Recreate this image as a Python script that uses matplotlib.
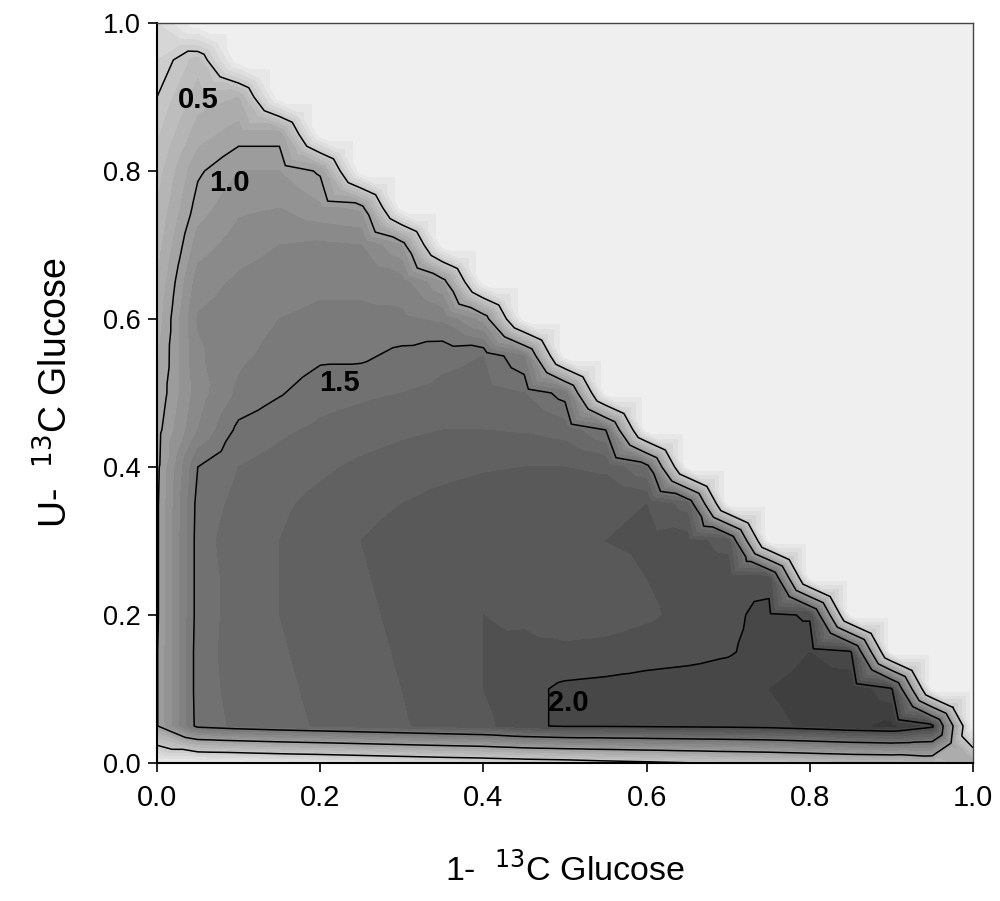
import numpy as np
import matplotlib.pyplot as plt
import matplotlib.tri as mtri
from matplotlib.colors import LinearSegmentedColormap

# grid of tracer fractions, step 0.05 (x = 1-13C glucose, y = U-13C glucose)
x_frac = np.linspace(0, 1, 21)
y_frac = np.linspace(0, 1, 21)

# values, one list per y row (only x + y <= 1 is defined)
rows = [
    [0.05, 0.05, 0.07, 0.11, 0.14, 0.18, 0.22, 0.26, 0.29, 0.33, 0.36, 0.41, 0.45, 0.49, 0.53, 0.56, 0.6, 0.64, 0.66, 0.75, 0.85],
    [0.99, 1.55, 1.62, 1.67, 1.71, 1.75, 1.79, 1.83, 1.87, 1.97, 2.02, 2.02, 2.03, 2.04, 2.05, 2.07, 2.12, 2.18, 2.22, 2.05],
    [0.99, 1.56, 1.63, 1.68, 1.72, 1.76, 1.8, 1.85, 1.9, 1.97, 2.02, 2.03, 2.04, 2.05, 2.06, 2.1, 2.14, 2.18, 2.02],
    [0.99, 1.56, 1.64, 1.69, 1.73, 1.77, 1.81, 1.86, 1.9, 1.93, 1.93, 1.94, 1.96, 1.97, 1.99, 2.04, 2.1, 2.02],
    [0.98, 1.55, 1.64, 1.7, 1.74, 1.78, 1.82, 1.87, 1.9, 1.88, 1.82, 1.84, 1.88, 1.93, 1.97, 2.04, 1.98],
    [0.98, 1.55, 1.64, 1.7, 1.75, 1.79, 1.83, 1.87, 1.9, 1.88, 1.83, 1.85, 1.9, 1.94, 1.98, 1.95],
    [0.98, 1.55, 1.66, 1.7, 1.76, 1.8, 1.84, 1.87, 1.89, 1.9, 1.88, 1.9, 1.92, 1.95, 1.85],
    [0.98, 1.54, 1.63, 1.68, 1.73, 1.77, 1.8, 1.83, 1.85, 1.86, 1.87, 1.88, 1.9, 1.75],
    [0.97, 1.5, 1.6, 1.64, 1.68, 1.72, 1.75, 1.77, 1.79, 1.8, 1.8, 1.78, 1.6],
    [0.96, 1.3, 1.53, 1.58, 1.62, 1.65, 1.68, 1.7, 1.7, 1.69, 1.66, 1.5],
    [0.92, 1.25, 1.42, 1.49, 1.56, 1.58, 1.6, 1.62, 1.63, 1.6, 1.45],
    [0.88, 1.28, 1.38, 1.43, 1.48, 1.48, 1.53, 1.58, 1.6, 1.4],
    [0.84, 1.31, 1.36, 1.4, 1.42, 1.42, 1.42, 1.38, 1.15],
    [0.8, 1.25, 1.32, 1.36, 1.38, 1.38, 1.35, 1.1],
    [0.75, 1.15, 1.25, 1.3, 1.32, 1.3, 1.1],
    [0.7, 1.05, 1.18, 1.2, 1.12, 1.08],
    [0.65, 0.98, 1.1, 1.1, 0.98],
    [0.58, 0.85, 0.95, 0.95],
    [0.5, 0.75, 0.8],
    [0.4, 0.65],
    [0.3],
]

line_levels = [0.5, 1.0, 1.5, 2.0]
label_text = ['0.5', '1.0', '1.5', '2.0']
label_pos = [(0.05, 0.896), (0.089, 0.784), (0.223, 0.514), (0.504, 0.081)]
tick_vals = [0.0, 0.2, 0.4, 0.6, 0.8, 1.0]

n = len(x_frac)
Z = np.zeros((n, n))
for j, r in enumerate(rows):
    Z[j, :len(r)] = r
X, Y = np.meshgrid(x_frac, y_frac)

# contour mesh: every grid cell split in 4 triangles around its centre
px = list(X.ravel())
py = list(Y.ravel())
pz = list(Z.ravel())
tris = []
for j in range(n - 1):
    for i in range(n - 1):
        a = j * n + i
        b = a + 1
        c = a + n + 1
        d = a + n
        k = len(px)
        px.append((x_frac[i] + x_frac[i + 1]) / 2)
        py.append((y_frac[j] + y_frac[j + 1]) / 2)
        pz.append((pz[a] + pz[b] + pz[c] + pz[d]) / 4)
        tris += [[a, b, k], [b, c, k], [c, d, k], [d, a, k]]
mesh = mtri.Triangulation(px, py, tris)

fig = plt.figure(figsize=(10, 9.01), dpi=100)
ax = fig.add_axes([0.157, 0.1532, 0.816, 0.8213])

cmap = LinearSegmentedColormap.from_list('greys', ['#f3f3f3', '#333333'])
ax.tricontourf(mesh, pz, levels=np.arange(0, 2.35, 0.1), cmap=cmap, vmin=0, vmax=2.3)
ax.tricontour(mesh, pz, levels=line_levels, colors='black', linewidths=1.1)

for txt, (lx, ly) in zip(label_text, label_pos):
    ax.text(lx, ly, txt, ha='center', va='center', fontsize=21,
            fontweight='bold', family='Liberation Sans')

ax.set_xlim(0, 1)
ax.set_ylim(0, 1)
ax.set_xticks(tick_vals)
ax.set_yticks(tick_vals)
ax.set_xticklabels([f'{v:.1f}' for v in tick_vals], family='Liberation Sans', fontsize=21)
ax.set_yticklabels([f'{v:.1f}' for v in tick_vals], family='Liberation Sans', fontsize=19.5)
ax.tick_params(direction='out', length=6.5, width=1.2, color='black')
ax.tick_params(axis='x', pad=9)
ax.tick_params(axis='y', pad=5)
for s in ['left', 'bottom']:
    ax.spines[s].set_linewidth(1.5)
for s in ['top', 'right']:
    ax.spines[s].set_linewidth(1.0)
    ax.spines[s].set_color('#444444')

ax.set_xlabel('1-  $^{13}$C Glucose', family='Liberation Sans', fontsize=24.5, labelpad=28)
ax.set_ylabel('U-  $^{13}$C Glucose', family='Liberation Sans', fontsize=27, labelpad=20)

fig.savefig('out.png', dpi=100)
